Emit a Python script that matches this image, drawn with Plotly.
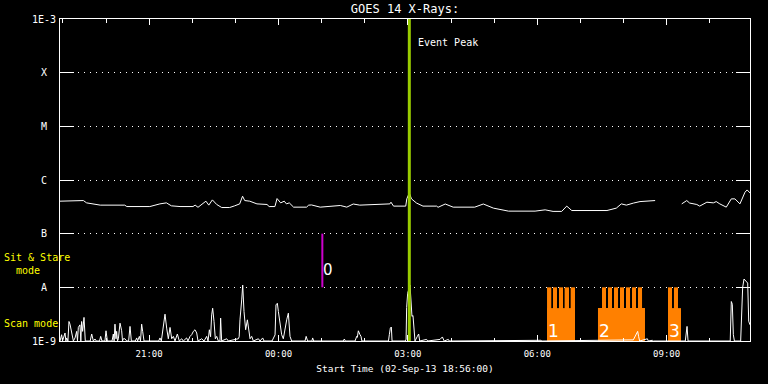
import math
import plotly.graph_objects as go
import pandas as pd

# ---------------- data ----------------
START = "2013-09-02 18:56:00"
SPAN_HOURS = 16

# long channel (1-8 A), minutes after start / flux W m^-2 (None = data gap)
long_min = [0, 23, 25.5, 32.5, 37, 46, 56, 90, 93, 125, 130, 139, 148, 155, 167, 185, 188, 192,
            203, 207, 212, 218, 225, 236, 243, 250, 254, 257, 264, 274, 288, 291, 299, 302, 307,
            312, 315, 319, 325, 343, 346, 350, 362, 390, 399, 408, 417, 459, 460.5, 464, 481,
            482.5, 486, 489, 496, 505, 524, 526, 536, 547, 577, 589, 603, 624, 661, 675, 686,
            698, 705, 712, 761, 774, 781, 788, 798, 807, 828, None, 865, 872, 876, 886, 890,
            900, 909, 913, 918, 927, 934, 939, 946, 953, 956, 960]
long_flux = [4.03e-7, 4.03e-7, 4.14e-7, 4.14e-7, 3.75e-7, 3.59e-7, 3.40e-7, 3.40e-7, 3.20e-7,
             3.20e-7, 3.35e-7, 3.59e-7, 3.75e-7, 3.30e-7, 3.20e-7, 3.20e-7, 3.40e-7, 3.10e-7,
             4.03e-7, 3.40e-7, 4.26e-7, 3.50e-7, 3.07e-7, 3.07e-7, 3.30e-7, 3.59e-7, 4.99e-7,
             4.14e-7, 4.03e-7, 3.59e-7, 3.50e-7, 3.20e-7, 3.20e-7, 4.51e-7, 3.75e-7, 4.03e-7,
             3.59e-7, 3.75e-7, 3.12e-7, 3.12e-7, 3.40e-7, 3.43e-7, 3.12e-7, 3.35e-7, 3.12e-7,
             3.57e-7, 3.40e-7, 3.59e-7, 3.86e-7, 3.26e-7, 3.26e-7, 4.45e-7, 5.74e-7, 4.45e-7,
             3.72e-7, 3.26e-7, 3.26e-7, 3.10e-7, 3.57e-7, 3.12e-7, 3.12e-7, 3.57e-7, 2.99e-7,
             2.63e-7, 2.63e-7, 2.78e-7, 2.60e-7, 2.60e-7, 3.26e-7, 2.70e-7, 2.70e-7, 2.99e-7,
             3.59e-7, 3.40e-7, 3.72e-7, 3.96e-7, 4.14e-7, None, 3.59e-7, 4.14e-7, 3.72e-7,
             3.50e-7, 3.26e-7, 3.86e-7, 3.75e-7, 3.96e-7, 3.59e-7, 3.12e-7, 4.45e-7, 4.45e-7,
             3.59e-7, 5.92e-7, 6.53e-7, 5.74e-7]

# short channel (0.5-4 A), minutes after start / flux
short_min = [0, 2.3, 3.5, 7.0, 8.2, 9.3, 11, 12.5, 13.9, 15.3, 16.7, 18.6, 20.9, 23.2, 24.3, 25.5,
             27.8, 29, 30.1, 31.5, 33.4, 35.2, 42, 44.1, 46.4, 48.7, 50.5, 55, 56.6, 58.4, 62.5,
             64.0, 65.9, 72.4, 74.2, 75.3, 76.5, 77.9, 78.8, 80, 81.2, 83.5, 85.8, 87, 88.1, 90.4,
             92.8, 95.5, 97.4, 99.3, 104.8, 106.7, 108, 110.4, 112, 113.6, 115.0, 116.9, 137.3,
             139.1, 141, 143.8, 146.1, 148.4, 150.7, 153.1, 155.4, 157.7, 160, 163.3, 166.0,
             169.3, 171.6, 176.2, 178, 180.9, 183.2, 185.5, 187.8, 190.2, 192.0, 197.1, 200.4,
             204.1, 206, 207.8, 209.5, 211.0, 212.4, 214.3, 216.1, 218, 220.3, 222.6, 223.5,
             224.9, 231.9, 234.2, 248.1, 249.3, 250.4, 252.8, 254.2, 256.0, 258.3, 260.7, 262.5,
             264.4, 266.7, 269, 276, 278.3, 282, 283.8, 295, 296.8, 299.2, 300.5, 302.4, 303.8,
             306.1, 308.4, 310.7, 313.1, 315.4, 317.7, 320, 322.3, 340.9, 342.5, 344.5, 350.5,
             351.5, 353, 394.2, 395.6, 397, 410.5, 412.8, 413.7, 415.1, 417.4, 418.8, 420, 457,
             458.2, 459.6, 461, 462, 480.5, 481.5, 482.3, 483.7, 487, 488.3, 489.7, 491.1, 492.5,
             493.9, 497.2, 499, 500.5, 510.1, 511.5, 528.7, 532, 533.3, 534.5, 540.3, 541.5,
             669.2, 670.5, 797.7, 800, 802.3, 803.7, 805.1, 806.5, 817.2, 818.5, 824.1, 825.5,
             870, 871, 872.4, 873.8, 932.5, 934, 935.4, 936.8, 938.3, 947, 948.4, 949.8, 951.7,
             954.4, 956.8, 958.2, 960]
short_flux = [1.0e-9, 1.31e-9, 1.0e-9, 1.41e-9, 1.0e-9, 1.14e-9, 1.0e-9, 2.31e-9, 2.06e-9, 1.62e-9,
              1.31e-9, 1.0e-9, 1.14e-9, 1.51e-9, 1.0e-9, 1.79e-9, 2.0e-9, 1.0e-9, 2.31e-9, 1.51e-9,
              2.75e-9, 1.0e-9, 1.0e-9, 1.35e-9, 1.0e-9, 1.09e-9, 1.0e-9, 1.0e-9, 1.22e-9, 1.0e-9,
              1.0e-9, 1.55e-9, 1.0e-9, 1.0e-9, 1.35e-9, 1.0e-9, 2.06e-9, 1.1e-9, 1.51e-9, 1.0e-9,
              1.1e-9, 2.15e-9, 1.55e-9, 1.0e-9, 1.1e-9, 1.1e-9, 1.0e-9, 1.0e-9, 1.87e-9, 1.0e-9,
              1.0e-9, 1.14e-9, 1.0e-9, 1.22e-9, 1.0e-9, 2.06e-9, 1.51e-9, 1.0e-9, 1.0e-9, 1.14e-9,
              1.0e-9, 1.87e-9, 3.16e-9, 1.74e-9, 1.1e-9, 1.79e-9, 1.1e-9, 1.22e-9, 1.0e-9, 1.35e-9,
              1.0e-9, 1.1e-9, 1.0e-9, 1.14e-9, 1.0e-9, 1.22e-9, 1.31e-9, 1.51e-9, 1.62e-9, 1.41e-9,
              1.0e-9, 1.1e-9, 1.0e-9, 1.22e-9, 1.0e-9, 1.62e-9, 1.2e-9, 3.07e-9, 4.08e-9, 2.31e-9,
              1.1e-9, 1.22e-9, 1.0e-9, 1.0e-9, 2.67e-9, 1.0e-9, 1.1e-9, 1.0e-9, 1.1e-9, 1.2e-9,
              2.48e-9, 5.82e-9, 1.10e-8, 3.55e-9, 1.62e-9, 2.48e-9, 1.51e-9, 1.1e-9, 1.22e-9,
              1.0e-9, 1.1e-9, 1.0e-9, 1.14e-9, 1.0e-9, 1.0e-9, 1.14e-9, 1.3e-9, 4.71e-9, 5.05e-9,
              3.55e-9, 1.87e-9, 1.31e-9, 1.1e-9, 1.87e-9, 2.48e-9, 3.30e-9, 1.22e-9, 1.0e-9,
              1.0e-9, 1.22e-9, 1.0e-9, 1.0e-9, 1.14e-9, 1.0e-9, 1.0e-9, 1.09e-9, 1.0e-9, 1.0e-9,
              1.22e-9, 1.17e-9, 1.55e-9, 1.31e-9, 1.22e-9, 1.0e-9, 1.0e-9, 1.31e-9, 1.74e-9,
              1.82e-9, 1.0e-9, 1.0e-9, 1.08e-9, 4.2e-9, 7.77e-9, 1.10e-8, 5.82e-9, 2.87e-9,
              2.99e-9, 1.87e-9, 1.0e-9, 1.22e-9, 1.35e-9, 1.0e-9, 1.07e-9, 1.0e-9, 1.07e-9,
              1.19e-9, 1.07e-9, 1.0e-9, 1.07e-9, 1.0e-9, 1.03e-9, 1.0e-9, 1.05e-9, 1.2e-9,
              1.41e-9, 1.51e-9, 1.2e-9, 1.0e-9, 1.1e-9, 1.0e-9, 1.03e-9, 1.0e-9, 1.0e-9, 1.35e-9,
              1.87e-9, 1.0e-9, 1.0e-9, 5.44e-9, 4.84e-9, 1.31e-9, 1.0e-9, 1.0e-9, 5.44e-9,
              1.0e-8, 1.43e-8, 1.33e-8, 1.2e-8, 2.34e-9, 2.0e-9]

# scan-mode intervals (orange)
scan_block_start = ["2013-09-03 06:13:36", "2013-09-03 07:24:30", "2013-09-03 09:01:54"]
scan_block_end = ["2013-09-03 06:52:30", "2013-09-03 08:29:54", "2013-09-03 09:20:00"]
scan_block_level = 4.1e-9
scan_labels = ["1", "2", "3"]
raster_start = ["2013-09-03 06:13:36", "2013-09-03 06:21:55", "2013-09-03 06:30:15",
                "2013-09-03 06:38:05", "2013-09-03 06:46:30",
                "2013-09-03 07:30:06", "2013-09-03 07:38:24", "2013-09-03 07:46:48",
                "2013-09-03 07:55:06", "2013-09-03 08:03:30", "2013-09-03 08:11:48",
                "2013-09-03 08:20:12",
                "2013-09-03 09:01:54", "2013-09-03 09:10:12"]
raster_end = ["2013-09-03 06:19:30", "2013-09-03 06:27:30", "2013-09-03 06:35:50",
              "2013-09-03 06:44:10", "2013-09-03 06:52:30",
              "2013-09-03 07:35:42", "2013-09-03 07:44:00", "2013-09-03 07:52:24",
              "2013-09-03 08:00:42", "2013-09-03 08:09:06", "2013-09-03 08:17:24",
              "2013-09-03 08:25:48",
              "2013-09-03 09:07:30", "2013-09-03 09:15:48"]
raster_level = 1.0e-8
floor_level = 1.0e-9

# sit & stare marker and event peak
sit_stare_time = "2013-09-03 01:01:00"
sit_stare_range = [1.0e-8, 1.0e-7]
sit_stare_label = "0"
event_peak_time = "2013-09-03 03:02:00"

# y-axis class labels
class_vals = [1e-9, 1e-8, 1e-7, 1e-6, 1e-5, 1e-4, 1e-3]
class_text = ["1E-9", "A", "B", "C", "M", "X", "1E-3"]

# ---------------- figure ----------------
t0 = pd.Timestamp(START)
t_end = t0 + pd.Timedelta(hours=SPAN_HOURS)


def to_time(mins):
    return [None if m is None else t0 + pd.Timedelta(minutes=m) for m in mins]


MONO = "DejaVu Sans Mono"
ORANGE = "#ff8000"

fig = go.Figure()


def add_rect(s, e, top):
    fig.add_trace(go.Scatter(
        x=[s, s, e, e, s], y=[floor_level, top, top, floor_level, floor_level],
        mode="lines", fill="toself", fillcolor=ORANGE, line=dict(width=0, color=ORANGE),
        hoverinfo="skip", showlegend=False))


for s, e in zip(scan_block_start, scan_block_end):
    add_rect(s, e, scan_block_level)
for s, e in zip(raster_start, raster_end):
    add_rect(s, e, raster_level)

fig.add_trace(go.Scatter(x=to_time(short_min), y=short_flux, mode="lines",
                         line=dict(color="white", width=1), showlegend=False))
fig.add_trace(go.Scatter(x=to_time(long_min), y=long_flux, mode="lines",
                         line=dict(color="white", width=1), connectgaps=False, showlegend=False))

fig.add_trace(go.Scatter(x=[sit_stare_time, sit_stare_time], y=sit_stare_range, mode="lines",
                         line=dict(color="#cc00cc", width=2), showlegend=False))
fig.add_trace(go.Scatter(x=[event_peak_time, event_peak_time], y=[1e-9, 1e-3], mode="lines",
                         line=dict(color="#99cc00", width=3), showlegend=False))

ann = []
for v, t in zip(class_vals, class_text):
    ann.append(dict(x=-16 / 690, xref="paper", y=math.log10(v), yref="y", text=t,
                    showarrow=False, xanchor="center", yanchor="middle",
                    font=dict(family=MONO, size=10, color="white")))
ann.append(dict(x=event_peak_time, xref="x", y=(343 - 43) / 324, yref="paper", text="Event Peak",
                showarrow=False, xanchor="left", yanchor="middle", xshift=7,
                font=dict(family=MONO, size=10, color="white")))
ann.append(dict(x=sit_stare_time, xref="x", y=(343 - 272) / 324, yref="paper", text=sit_stare_label,
                showarrow=False, xanchor="left", yanchor="middle", xshift=-1,
                font=dict(family="DejaVu Sans", size=15, color="white")))
for s, lab in zip(scan_block_start, scan_labels):
    ann.append(dict(x=s, xref="x", y=(343 - 333) / 324, yref="paper", text=lab,
                    showarrow=False, xanchor="left", yanchor="middle", xshift=-1,
                    font=dict(family="DejaVu Sans", size=17, color="white")))
ann.append(dict(x=-58 / 690, xref="paper", y=(343 - 266) / 324, yref="paper",
                text="Sit & Stare<br>\u00a0\u00a0mode", align="left",
                showarrow=False, xanchor="left", yanchor="middle",
                font=dict(family=MONO, size=10, color="#ffff00")))
ann.append(dict(x=-58 / 690, xref="paper", y=(343 - 325) / 324, yref="paper",
                text="Scan mode", align="left",
                showarrow=False, xanchor="left", yanchor="middle",
                font=dict(family=MONO, size=10, color="#ffff00")))

fig.update_layout(
    width=768, height=384,
    margin=dict(l=60, r=18, t=19, b=41),
    paper_bgcolor="black", plot_bgcolor="black",
    title=dict(text="GOES 14 X-Rays:", x=0.5, xref="paper", y=1 - 9 / 384, yref="container",
               xanchor="center", yanchor="middle",
               font=dict(family=MONO, size=12, color="white")),
    annotations=ann,
    xaxis=dict(type="date", range=[t0, t_end], showline=True, linecolor="white", linewidth=1,
               mirror="ticks", ticks="inside", ticklen=6, tickcolor="white", tickwidth=1,
               dtick=3 * 3600000, tick0="2013-09-02 21:00:00", tickformat="%H:%M",
               showgrid=False, zeroline=False, ticklabelstandoff=4,
               tickfont=dict(family=MONO, size=9, color="white"),
               minor=dict(dtick=3600000, ticks="inside", ticklen=3.5, tickcolor="white",
                          showgrid=False),
               title=dict(text="Start Time (02-Sep-13 18:56:00)", standoff=7,
                          font=dict(family=MONO, size=9.5, color="white"))),
    yaxis=dict(type="log", range=[-9, -3], tickvals=class_vals, showticklabels=False,
               showline=True, linecolor="white", linewidth=1, mirror="ticks",
               ticks="inside", ticklen=14, tickcolor="white",
               showgrid=True, gridcolor="white", gridwidth=1, griddash="1px,5px",
               zeroline=False),
)

fig.write_html("out.html", config={"displayModeBar": False},
               post_script="document.body.style.margin='0px';")
